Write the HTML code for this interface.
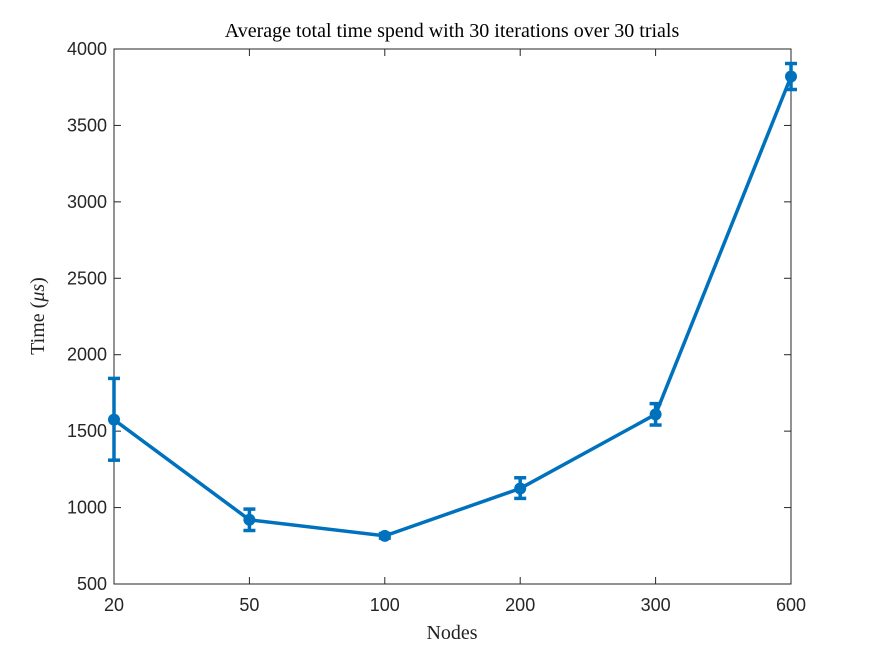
<!DOCTYPE html>
<html><head><meta charset="utf-8"><style>
html,body{margin:0;padding:0;background:#fff;width:875px;height:656px;overflow:hidden}
svg text{font-family:"Liberation Sans",Arial,sans-serif}
.serif{font-family:"Liberation Serif","DejaVu Serif",serif}
</style></head><body>
<svg id="chart" width="875" height="656" xmlns="http://www.w3.org/2000/svg">
<text class="serif" x="452" y="37" text-anchor="middle" font-size="20" fill="#000">Average total time spend with 30 iterations over 30 trials</text>
<text class="serif" x="452" y="639" text-anchor="middle" font-size="20" fill="#222">Nodes</text>
<text class="serif" transform="translate(44,316) rotate(-90)" text-anchor="middle" font-size="20" fill="#222">Time (<tspan font-style="italic">μs</tspan>)</text>
<g id="axes"></g>
<g id="series"></g>
</svg>
<script>
const categories = ["20","50","100","200","300","600"];
const meanValues = [1575, 920, 815, 1125, 1610, 3820];
const errLow = [1310, 850, 800, 1060, 1540, 3735];
const errHigh = [1845, 990, 830, 1195, 1680, 3905];
const yTicks = [500,1000,1500,2000,2500,3000,3500,4000];

const L=114,R=791,T=49,B=584,yMin=500,yMax=4000;
const NS="http://www.w3.org/2000/svg";
function xs(i){return L+(R-L)*i/(categories.length-1);}
function ys(v){return B-(v-yMin)/(yMax-yMin)*(B-T);}
function mk(tag,attrs,parent){const e=document.createElementNS(NS,tag);for(const k in attrs)e.setAttribute(k,attrs[k]);parent.appendChild(e);return e;}
const ax=document.getElementById('axes'), se=document.getElementById('series');
const box=mk('rect',{x:L,y:T,width:R-L,height:B-T,fill:'none',stroke:'#262626','stroke-width':1},ax);


yTicks.forEach(v=>{
  const y=ys(v);
  const t1=mk('line',{x1:L,x2:L+7,y1:y,y2:y,stroke:'#262626'},ax);
  
  
  const t2=mk('line',{x1:R-7,x2:R,y1:y,y2:y,stroke:'#262626'},ax);
  
  
  const tx=mk('text',{x:L-7,y:y+6,'text-anchor':'end','font-size':18,fill:'#262626'},ax);
  tx.textContent=v;
  
  
});
categories.forEach((c,i)=>{
  const x=xs(i);
  const t1=mk('line',{x1:x,x2:x,y1:B,y2:B-7,stroke:'#262626'},ax);
  
  
  const t2=mk('line',{x1:x,x2:x,y1:T,y2:T+7,stroke:'#262626'},ax);
  
  
  const tx=mk('text',{x:x,y:B+27,'text-anchor':'middle','font-size':18,fill:'#262626'},ax);
  tx.textContent=c;
  
  
});
const col='#0072BD';
const pts=meanValues.map((v,i)=>xs(i)+','+ys(v)).join(' ');
const line=mk('polyline',{points:pts,fill:'none',stroke:col,'stroke-width':3.5,'stroke-linejoin':'round'},se);


meanValues.forEach((v,i)=>{
  const x=xs(i);
  const g=mk('g',{},se);
  
  
  mk('line',{x1:x,x2:x,y1:ys(errLow[i]),y2:ys(errHigh[i]),stroke:col,'stroke-width':3.5},g);
  mk('line',{x1:x-6,x2:x+6,y1:ys(errLow[i]),y2:ys(errLow[i]),stroke:col,'stroke-width':3.5},g);
  mk('line',{x1:x-6,x2:x+6,y1:ys(errHigh[i]),y2:ys(errHigh[i]),stroke:col,'stroke-width':3.5},g);
  const c=mk('circle',{cx:x,cy:ys(v),r:6,fill:col},se);
  
  
});
</script>
</body></html>
